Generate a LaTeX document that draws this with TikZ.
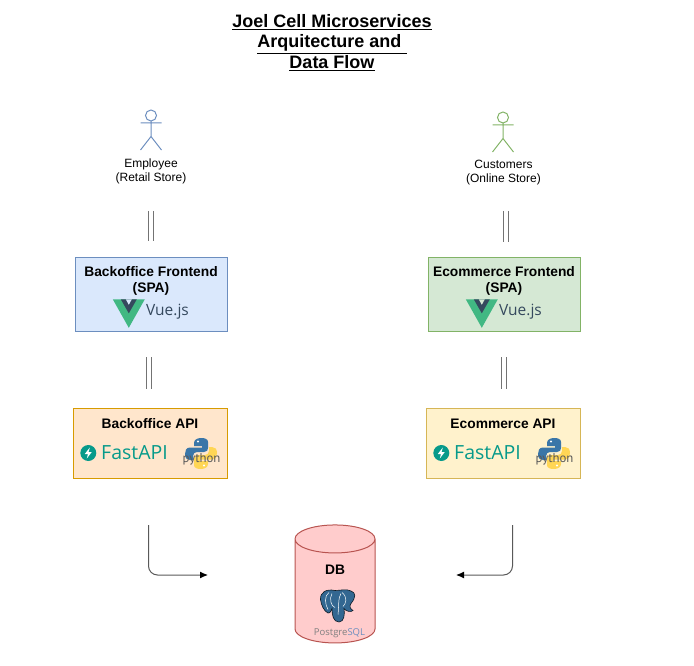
\documentclass[tikz,border=0pt]{standalone}
\usepackage{fontspec}
\setmainfont{Liberation Sans}
\newfontfamily\logofont{Open Sans}
\newfontfamily\pyfont{PT Sans}
\usetikzlibrary{positioning, shapes.geometric, arrows.meta}
\definecolor{bluefill}{HTML}{DAE8FC}
\definecolor{blueline}{HTML}{6C8EBF}
\definecolor{greenfill}{HTML}{D5E8D4}
\definecolor{greenline}{HTML}{82B366}
\definecolor{orangefill}{HTML}{FFE6CC}
\definecolor{orangeline}{HTML}{D79B00}
\definecolor{yellowfill}{HTML}{FFF2CC}
\definecolor{yellowline}{HTML}{D6B656}
\definecolor{redfill}{HTML}{FFCCCC}
\definecolor{redline}{HTML}{B85450}
\definecolor{vuegreen}{HTML}{41B883}
\definecolor{vuedark}{HTML}{35495E}
\definecolor{fastteal}{HTML}{079A8A}
\definecolor{pyblue}{HTML}{3A76A8}
\definecolor{pyyellow}{HTML}{FFD655}
\definecolor{pgblue}{HTML}{336791}
\newcommand{\boxfont}{\fontsize{13.8}{16}\selectfont\bfseries}
\newcommand{\smallfont}{\fontsize{12}{14}\selectfont}
\tikzset{
  x=1pt, y=-1pt,
  titletext/.style={align=center, font=\fontsize{18}{20.5}\selectfont\bfseries},
  actortext/.style={align=center, font=\smallfont},
  boxtext/.style={align=center, font=\boxfont},
  appbox/.style={draw, line width=0.8pt, minimum width=152pt, minimum height=74pt},
  apibox/.style={draw, line width=0.8pt, minimum width=154pt, minimum height=70pt},
  link/.style={draw=black!55, line width=1pt},
  flow/.style={draw=black!65, line width=1pt, rounded corners=9pt, -{Latex[length=8pt,width=7pt,color=black]}},
  actor/.pic={
    \draw[pic actions] (0,0) circle (5.5);
    \draw[pic actions, fill=none] (0,5.5) -- (0,21) (-10.5,7.5) -- (10.5,7.5)
      (-10.5,34.5) -- (0,21) -- (10.5,34.5);
  },
  vuelogo/.pic={
    \fill[vuegreen] (-16,-14.5) -- (16,-14.5) -- (0,14) -- cycle;
    \fill[vuedark] (-8,-14.5) -- (8,-14.5) -- (0,-0.5) -- cycle;
    \fill[pic actions] (-3,-14.5) -- (3,-14.5) -- (0,-9) -- cycle;
  },
  fastlogo/.pic={
    \fill[fastteal] (0,0) circle (8);
    \fill[white] (1.5,-5.5) -- (-3.5,1) -- (-0.3,1) -- (-1.5,5.5) -- (3.5,-1) -- (0.3,-1) -- cycle;
  },
  snake/.pic={
    \fill[pic actions] (0,-15.5) .. controls (-4,-15.5) and (-7,-13.5) .. (-7,-10.5)
      -- (-7,-7.5) -- (1,-7.5) -- (1,-6) -- (-11,-6)
      .. controls (-15,-6) and (-16,-2.5) .. (-16,0.5)
      .. controls (-16,4.5) and (-14,6.5) .. (-11,6.5) -- (-8,6.5) -- (-8,2.5)
      .. controls (-8,0) and (-6,-1.5) .. (-4,-1.5) -- (3,-1.5)
      .. controls (6,-1.5) and (7,-3.5) .. (7,-5.5) -- (7,-11.5)
      .. controls (7,-14.5) and (4,-15.5) .. (0,-15.5) -- cycle;
  },
  pylogo/.pic={
    \path[fill=pyblue] pic {snake};
    \path[fill=pyyellow] pic[rotate=180] {snake};
    \fill[white] (-3,-12) circle (1.2) (3,12) circle (1.2);
  },
  pglogo/.pic={
    \fill[pgblue, draw=black!75!pgblue, line width=0.6pt] (-3,-16)
      .. controls (-12,-18) and (-18,-14) .. (-17.5,-7)
      .. controls (-17,-2) and (-14,5) .. (-10,6.5)
      .. controls (-7,7) and (-7,3) .. (-6,2)
      .. controls (-6,8) and (-5,15.5) .. (1,15.5)
      .. controls (6,15.5) and (7,8) .. (6,2)
      .. controls (8,5) and (13,6) .. (15,4)
      .. controls (12,2) and (11,0) .. (13,-3)
      .. controls (18,-9) and (18,-14) .. (13,-15.5)
      .. controls (8,-18) and (3,-16) .. (-3,-16) -- cycle;
    \draw[white, line width=0.5pt] (-9,-14) .. controls (-14,-11) and (-13,-2) .. (-10,3)
      (-6,-13) .. controls (-9,-8) and (-7,0) .. (-3,1)
      (4,-14) .. controls (10,-9) and (8,-3) .. (5,0)
      (3,-13) .. controls (0,-9) and (1,0) .. (0,8);
  },
}
\begin{document}
\begin{tikzpicture}
    \useasboundingbox (0,0) rectangle (694,666);

    % title
    \node[titletext] (title) at (332,42.5) {\underline{Joel Cell Microservices}\\\underline{Arquitecture and\ }\\\underline{Data Flow}};

    % actors
    \path[draw=blueline, fill=bluefill, line width=1pt] (151,115.5) pic {actor};
    \path[draw=greenline, fill=greenfill, line width=1pt] (503,117.5) pic {actor};
    \node[actortext] (employee) at (151,171) {Employee\\(Retail Store)};
    \node[actortext] (customers) at (503.5,173) {Customers\\(Online Store)};

    % frontends
    \node[appbox, draw=blueline, fill=bluefill] (backfront) at (151,294) {};
    \node[appbox, draw=greenline, fill=greenfill] (ecomfront) at (504,294) {};
    \node[boxtext] (backfronttext) at (151,280.5) {Backoffice Frontend\\(SPA)};
    \node[boxtext] (ecomfronttext) at (504,280.5) {Ecommerce Frontend\\(SPA)};
    \path[fill=bluefill] (128.8,313.8) pic {vuelogo};
    \path[fill=greenfill] (481.8,313.8) pic {vuelogo};
    \node[font=\logofont\fontsize{15.5}{20}\selectfont, text=vuedark] (backvue) at (167.5,312) {Vue.js};
    \node[font=\logofont\fontsize{15.5}{20}\selectfont, text=vuedark] (ecomvue) at (520.5,312) {Vue.js};

    % apis
    \node[apibox, draw=orangeline, fill=orangefill] (backapi) at (150,443) {};
    \node[apibox, draw=yellowline, fill=yellowfill] (ecomapi) at (503,443) {};
    \node[boxtext] (backapitext) at (150,424) {Backoffice API};
    \node[boxtext] (ecomapitext) at (503,424) {Ecommerce API};
    \path (88.3,453) pic {fastlogo};
    \path (441.3,453) pic {fastlogo};
    \node[font=\logofont\fontsize{19.5}{20}\selectfont, text=fastteal] (backfast) at (134.5,453) {FastAPI};
    \node[font=\logofont\fontsize{19.5}{20}\selectfont, text=fastteal] (ecomfast) at (487.5,453) {FastAPI};
    \path (201,453.5) pic {pylogo};
    \path (554,453.5) pic {pylogo};
    \node[font=\pyfont\fontsize{12.8}{14}\selectfont, text=black!65] (backpy) at (201.5,459.5) {python};
    \node[font=\pyfont\fontsize{12.8}{14}\selectfont, text=black!65] (ecompy) at (554.5,459.5) {python};

    % database
    \node[cylinder, shape border rotate=90, aspect=4.2, draw=redline, fill=redfill, line width=1pt,
      minimum width=80pt, minimum height=118pt, outer sep=0pt] (db) at (335,594) {};
    \node[boxtext] (dbtext) at (335,569.5) {DB};
    \path (338,606.5) pic {pglogo};
    \node[font=\logofont\fontsize{9.5}{10}\selectfont, text=black!50] (pgtext) at (339.5,633) {Postgre\textcolor{blueline}{SQL}};

    % free ends of the connectors
    \coordinate (emp1) at (150.5,211);
    \coordinate (emp2) at (150.5,241);
    \coordinate (cus1) at (505.5,211);
    \coordinate (cus2) at (505.5,242);
    \coordinate (fb1) at (149,357);
    \coordinate (fb2) at (149,389);
    \coordinate (fe1) at (504,357);
    \coordinate (fe2) at (504,389);
    \coordinate (dbl1) at (148.5,525);
    \coordinate (dbl2) at (208,575);
    \coordinate (dbr1) at (512.5,525);
    \coordinate (dbr2) at (456,575);

    \foreach \s in {-2.5,2.5} {
        \draw[link] ([xshift=\s]emp1) -- ([xshift=\s]emp2);
        \draw[link] ([xshift=\s]cus1) -- ([xshift=\s]cus2);
        \draw[link] ([xshift=\s]fb1) -- ([xshift=\s]fb2);
        \draw[link] ([xshift=\s]fe1) -- ([xshift=\s]fe2);
    }
    \draw[flow] (dbl1) |- (dbl2);
    \draw[flow] (dbr1) |- (dbr2);
\end{tikzpicture}
\end{document}
